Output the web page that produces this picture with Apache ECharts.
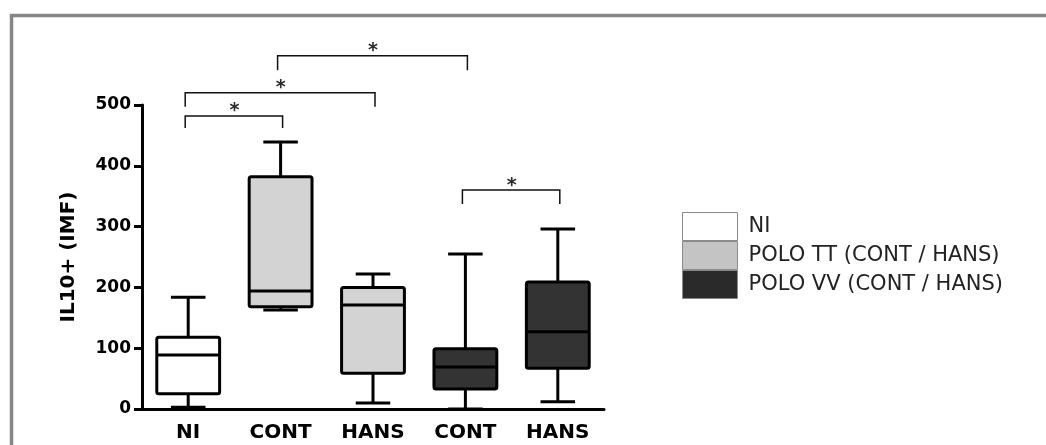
<!DOCTYPE html>
<html>
<head>
<meta charset="utf-8">
<script src="https://cdn.jsdelivr.net/npm/echarts@6/dist/echarts.min.js"></script>
<style>
html,body{margin:0;padding:0;background:#fff;}
#main{width:1046px;height:445px;}
</style>
</head>
<body>
<div id="main"></div>
<script>
// ---- data ----
const categories = ['NI', 'CONT', 'HANS', 'CONT', 'HANS'];
const groupNames = ['NI', 'POLO TT (CONT / HANS)', 'POLO VV (CONT / HANS)'];
// [categoryIndex, min, Q1, median, Q3, max]
const niBoxes = [[0, 3, 25, 89, 118, 184]];
const ttBoxes = [[1, 163, 168, 194, 382, 439], [2, 10, 59, 171, 200, 222]];
const vvBoxes = [[3, 0, 33, 69, 99, 255], [4, 12, 67, 127, 209, 296]];
// [fromCategory, toCategory, bracketValue, legEndValue]
const brackets = [[0, 1, 482, 462], [0, 2, 520, 497], [1, 3, 581, 557], [3, 4, 360, 337]];
const yMin = 0, yMax = 500, yStep = 100;

const boxFill = ['#ffffff', '#d3d3d3', '#333333'];
const legendFill = ['#ffffff', '#c4c4c4', '#2a2a2a'];

function renderBox(params, api) {
  const cat = api.value(0);
  const pMin = api.coord([cat, api.value(1)]);
  const x = pMin[0];
  const yLo = pMin[1];
  const yQ1 = api.coord([cat, api.value(2)])[1];
  const yMed = api.coord([cat, api.value(3)])[1];
  const yQ3 = api.coord([cat, api.value(4)])[1];
  const yHi = api.coord([cat, api.value(5)])[1];
  const band = api.size([1, 0])[0];
  const bw = band * 0.68;
  const cw = bw * 0.55;
  const ls = { stroke: '#000', lineWidth: 3 };
  const fill = api.visual('color');
  return {
    type: 'group',
    children: [
      { type: 'line', shape: { x1: x, y1: yHi, x2: x, y2: yQ3 }, style: ls },
      { type: 'line', shape: { x1: x, y1: yQ1, x2: x, y2: yLo }, style: ls },
      { type: 'line', shape: { x1: x - cw / 2, y1: yHi, x2: x + cw / 2, y2: yHi }, style: ls },
      { type: 'line', shape: { x1: x - cw / 2, y1: yLo, x2: x + cw / 2, y2: yLo }, style: ls },
      { type: 'rect', shape: { x: x - bw / 2, y: yQ3, width: bw, height: yQ1 - yQ3, r: 2 },
        style: { fill: fill, stroke: '#000', lineWidth: 3 } },
      { type: 'line', shape: { x1: x - bw / 2, y1: yMed, x2: x + bw / 2, y2: yMed }, style: ls }
    ]
  };
}

function renderBracket(params, api) {
  const p1 = api.coord([api.value(0), api.value(2)]);
  const p2 = api.coord([api.value(1), api.value(2)]);
  const yLeg = api.coord([api.value(0), api.value(3)])[1];
  const y = p1[1];
  return {
    type: 'group',
    children: [
      { type: 'polyline', shape: { points: [[p1[0] - 3, yLeg], [p1[0] - 3, y], [p2[0] + 2, y], [p2[0] + 2, yLeg]] },
        style: { stroke: '#111', lineWidth: 1.5, fill: null } },
      { type: 'text', style: { text: '*', x: (p1[0] + p2[0]) / 2, y: y + 5,
        align: 'center', verticalAlign: 'bottom',
        fontFamily: 'DejaVu Sans', fontWeight: 'bold', fontSize: 19, fill: '#2a2a2a' } }
    ]
  };
}

const chart = echarts.init(document.getElementById('main'), null, { renderer: 'canvas' });
const axisFont = { fontFamily: 'DejaVu Sans', fontWeight: 'bold', fontSize: 17, color: '#000' };

chart.setOption({
  animation: false,
  backgroundColor: '#fff',
  graphic: [{
    type: 'rect', shape: { x: 11.5, y: 15.5, width: 1100, height: 500 },
    style: { fill: null, stroke: '#868686', lineWidth: 3.5 }, silent: true
  }],
  grid: { left: 142, top: 105, width: 462, bottom: 36, containLabel: false },
  legend: {
    orient: 'vertical', left: 677, top: 207,
    itemWidth: 55, itemHeight: 28, itemGap: 0, icon: 'rect',
    itemStyle: { borderColor: '#8a8a8a', borderWidth: 1 },
    textStyle: { fontFamily: 'DejaVu Sans', fontSize: 21, color: '#222', padding: [0, 0, 0, 6] },
    data: groupNames.map((n, i) => ({ name: n, itemStyle: { color: legendFill[i] } })),
    selectedMode: false
  },
  xAxis: {
    type: 'category', data: categories,
    axisLine: { lineStyle: { color: '#000', width: 3 } },
    axisTick: { alignWithLabel: true, length: 10, lineStyle: { color: '#000', width: 3 } },
    axisLabel: { margin: 14, fontFamily: 'DejaVu Sans', fontWeight: 'bold', fontSize: 20, color: '#000' },
    splitLine: { show: false }
  },
  yAxis: {
    type: 'value', min: yMin, max: yMax, interval: yStep,
    name: 'IL10+ (IMF)', nameLocation: 'middle', nameRotate: 90, nameGap: 63,
    nameTextStyle: { fontFamily: 'DejaVu Sans', fontWeight: 'bold', fontSize: 20, color: '#000' },
    axisLine: { show: true, lineStyle: { color: '#000', width: 3 } },
    axisTick: { show: true, length: 8, lineStyle: { color: '#000', width: 3 } },
    axisLabel: Object.assign({ margin: 11 }, axisFont),
    splitLine: { show: false }
  },
  series: [
    { name: groupNames[0], type: 'custom', renderItem: renderBox, data: niBoxes,
      itemStyle: { color: boxFill[0] }, encode: { x: 0, y: [1, 2, 3, 4, 5] } },
    { name: groupNames[1], type: 'custom', renderItem: renderBox, data: ttBoxes,
      itemStyle: { color: boxFill[1] }, encode: { x: 0, y: [1, 2, 3, 4, 5] } },
    { name: groupNames[2], type: 'custom', renderItem: renderBox, data: vvBoxes,
      itemStyle: { color: boxFill[2] }, encode: { x: 0, y: [1, 2, 3, 4, 5] } },
    { type: 'custom', renderItem: renderBracket, data: brackets, clip: false,
      encode: { x: [0, 1], y: [2, 3] }, silent: true }
  ]
});
</script>
</body>
</html>
